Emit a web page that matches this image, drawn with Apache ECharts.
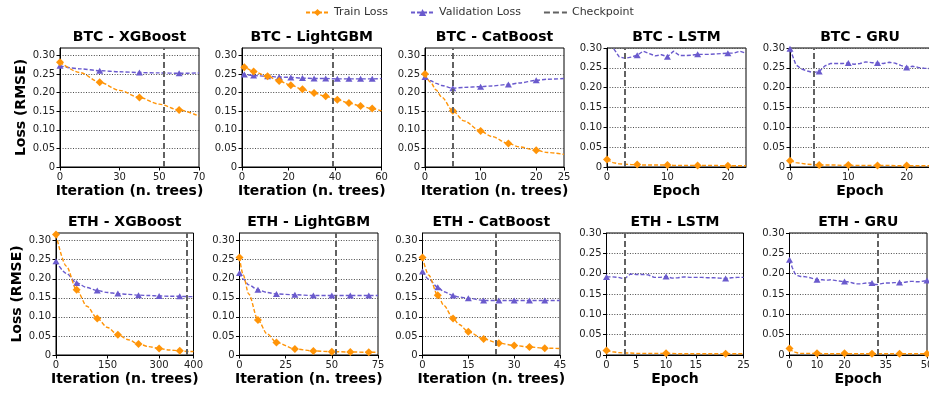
<!DOCTYPE html>
<html><head><meta charset="utf-8">
<script src="https://cdn.jsdelivr.net/npm/echarts@6/dist/echarts.min.js"></script>
<style>html,body{margin:0;padding:0;background:#fff}#c{width:929px;height:393px}</style>
</head><body><div id="c"></div>
<script>
// ---------------- DATA ----------------
const yTicks = [0, 0.05, 0.10, 0.15, 0.20, 0.25, 0.30];

// BTC - XGBoost
const btcXgbX     = [0, 10, 20, 30, 40, 50, 60, 70];
const btcXgbTrain = [0.282, 0.254, 0.228, 0.206, 0.187, 0.169, 0.153, 0.137];
const btcXgbVal   = [0.272, 0.264, 0.259, 0.256, 0.254, 0.253, 0.252, 0.253];
const btcXgbMarks = [0, 2, 4, 6];
const btcXgbCkpt  = 52;
const btcXgbTicks = [0, 30, 50, 70];

// BTC - LightGBM
const btcLgbX     = [0, 1, 5, 11, 16, 21, 26, 31, 36, 41, 46, 51, 56, 60];
const btcLgbTrain = [0.272, 0.268, 0.257, 0.244, 0.231, 0.220, 0.209, 0.199, 0.190, 0.181, 0.172, 0.164, 0.157, 0.151];
const btcLgbVal   = [0.250, 0.249, 0.246, 0.244, 0.242, 0.241, 0.239, 0.238, 0.238, 0.237, 0.237, 0.237, 0.237, 0.238];
const btcLgbMarks = [1, 2, 3, 4, 5, 6, 7, 8, 9, 10, 11, 12];
const btcLgbCkpt  = 39;
const btcLgbTicks = [0, 20, 40, 60];

// BTC - CatBoost
const btcCatX     = [0, 1, 2, 3, 5, 7, 10, 12, 15, 17, 20, 22, 25];
const btcCatTrain = [0.250, 0.228, 0.207, 0.188, 0.151, 0.124, 0.0965, 0.082, 0.063, 0.054, 0.045, 0.039, 0.034];
const btcCatVal   = [0.242, 0.232, 0.225, 0.219, 0.212, 0.214, 0.216, 0.218, 0.222, 0.226, 0.233, 0.236, 0.238];
const btcCatMarks = [0, 4, 6, 8, 10];
const btcCatCkpt  = 5;
const btcCatTicks = [0, 10, 20, 25];

// BTC - LSTM (epochs 0..23)
const btcLstmTrain = [0.019, 0.011, 0.008, 0.007, 0.006, 0.006, 0.005, 0.005, 0.005, 0.005, 0.005, 0.004, 0.004, 0.004, 0.004, 0.004, 0.004, 0.004, 0.004, 0.003, 0.003, 0.003, 0.003, 0.003];
const btcLstmVal   = [0.340, 0.301, 0.278, 0.274, 0.277, 0.282, 0.292, 0.286, 0.280, 0.283, 0.278, 0.292, 0.281, 0.281, 0.282, 0.284, 0.284, 0.284, 0.285, 0.286, 0.287, 0.287, 0.292, 0.287];
const btcLstmMarks = [0, 5, 10, 15, 20];
const btcLstmCkpt  = 3;
const btcLstmTicks = [0, 10, 20];

// BTC - GRU (epochs 0..24)
const btcGruTrain = [0.016, 0.011, 0.009, 0.007, 0.006, 0.005, 0.005, 0.005, 0.005, 0.004, 0.005, 0.004, 0.004, 0.004, 0.004, 0.004, 0.004, 0.004, 0.003, 0.003, 0.004, 0.003, 0.003, 0.003, 0.003];
const btcGruVal   = [0.298, 0.258, 0.247, 0.242, 0.238, 0.241, 0.255, 0.261, 0.261, 0.261, 0.262, 0.259, 0.261, 0.265, 0.263, 0.262, 0.261, 0.264, 0.262, 0.256, 0.251, 0.254, 0.251, 0.249, 0.248];
const btcGruMarks = [0, 5, 10, 15, 20];
const btcGruCkpt  = 4;
const btcGruTicks = [0, 10, 20];

// ETH - XGBoost
const ethXgbX     = [0, 30, 60, 90, 120, 150, 180, 210, 240, 270, 300, 330, 360, 390, 400];
const ethXgbTrain = [0.316, 0.233, 0.171, 0.128, 0.096, 0.072, 0.053, 0.040, 0.029, 0.022, 0.017, 0.013, 0.011, 0.009, 0.009];
const ethXgbVal   = [0.246, 0.214, 0.189, 0.177, 0.169, 0.164, 0.161, 0.159, 0.157, 0.156, 0.155, 0.154, 0.154, 0.153, 0.153];
const ethXgbMarks = [0, 2, 4, 6, 8, 10, 12];
const ethXgbCkpt  = 380;
const ethXgbTicks = [0, 150, 300, 400];

// ETH - LightGBM
const ethLgbX     = [0, 2, 5, 10, 15, 20, 30, 40, 50, 60, 70, 75];
const ethLgbTrain = [0.256, 0.210, 0.160, 0.092, 0.055, 0.033, 0.016, 0.0105, 0.0088, 0.0079, 0.0072, 0.0070];
const ethLgbVal   = [0.215, 0.199, 0.184, 0.171, 0.164, 0.160, 0.158, 0.156, 0.156, 0.156, 0.156, 0.156];
const ethLgbMarks = [0, 3, 5, 6, 7, 8, 9, 10];
const ethLgbCkpt  = 52;
const ethLgbTicks = [0, 25, 50, 75];

// ETH - CatBoost
const ethCatX     = [0, 2, 5, 7, 10, 12, 15, 20, 25, 30, 35, 40, 45];
const ethCatTrain = [0.256, 0.210, 0.157, 0.130, 0.096, 0.080, 0.061, 0.042, 0.031, 0.025, 0.021, 0.018, 0.017];
const ethCatVal   = [0.219, 0.199, 0.178, 0.166, 0.156, 0.152, 0.149, 0.143, 0.143, 0.143, 0.143, 0.143, 0.143];
const ethCatMarks = [0, 2, 4, 6, 7, 8, 9, 10, 11];
const ethCatCkpt  = 24;
const ethCatTicks = [0, 15, 30, 45];

// ETH - LSTM (epochs 0..23)
const ethLstmTrain = [0.011, 0.008, 0.006, 0.005, 0.005, 0.004, 0.004, 0.004, 0.004, 0.004, 0.004, 0.004, 0.003, 0.003, 0.003, 0.003, 0.003, 0.003, 0.003, 0.003, 0.003, 0.003, 0.003, 0.003];
const ethLstmVal   = [0.192, 0.192, 0.191, 0.187, 0.199, 0.198, 0.198, 0.197, 0.191, 0.191, 0.193, 0.189, 0.190, 0.192, 0.191, 0.191, 0.191, 0.190, 0.190, 0.189, 0.188, 0.190, 0.191, 0.191];
const ethLstmMarks = [0, 10, 20];
const ethLstmCkpt  = 3;
const ethLstmTicks = [0, 5, 10, 15, 23];
const ethLstmTickLabels = ['0', '5', '10', '15', '25'];

// ETH - GRU (epochs 0..50)
const ethGruTrain = [0.016,0.010,0.007,0.005,0.004,0.004,0.004,0.004,0.004,0.004,
                     0.004,0.004,0.003,0.003,0.003,0.003,0.003,0.003,0.003,0.003,
                     0.004,0.003,0.003,0.003,0.003,0.003,0.003,0.003,0.003,0.003,
                     0.003,0.003,0.003,0.003,0.003,0.003,0.003,0.003,0.003,0.003,
                     0.003,0.003,0.003,0.003,0.003,0.003,0.003,0.003,0.003,0.003,
                     0.003];
const ethGruVal   = [0.234,0.215,0.200,0.195,0.193,0.193,0.192,0.191,0.189,0.187,
                     0.185,0.185,0.185,0.184,0.184,0.185,0.184,0.183,0.182,0.181,
                     0.181,0.180,0.179,0.177,0.175,0.175,0.175,0.176,0.177,0.177,
                     0.177,0.174,0.173,0.175,0.176,0.177,0.177,0.177,0.178,0.178,
                     0.178,0.178,0.179,0.180,0.181,0.181,0.180,0.180,0.181,0.182,
                     0.183];
const ethGruMarks = [0, 10, 20, 30, 40, 50];
const ethGruCkpt  = 32;
const ethGruTicks = [0, 10, 20, 35, 50];

// ---------------- LAYOUT / STYLE ----------------
const FONT = 'DejaVu Sans';
const ORANGE = '#ff9408', PURPLE = '#6a5acd', GRAY = '#626262';
const epochs = arr => arr.map((_, i) => i);
const IT = 'Iteration (n. trees)', EP = 'Epoch';

const panels = [
  {title:'BTC - XGBoost',  x:btcXgbX, tr:btcXgbTrain, va:btcXgbVal, mk:btcXgbMarks, ck:btcXgbCkpt, xt:btcXgbTicks, xMax:70, yMax:0.32, xn:IT, sm:true,  box:[60,48,139,119]},
  {title:'BTC - LightGBM', x:btcLgbX, tr:btcLgbTrain, va:btcLgbVal, mk:btcLgbMarks, ck:btcLgbCkpt, xt:btcLgbTicks, xMax:60, yMax:0.32, xn:IT, sm:true,  box:[242,48,139.5,119]},
  {title:'BTC - CatBoost', x:btcCatX, tr:btcCatTrain, va:btcCatVal, mk:btcCatMarks, ck:btcCatCkpt, xt:btcCatTicks, xMax:25, yMax:0.32, xn:IT, sm:true,  box:[425,48,139,119]},
  {title:'BTC - LSTM', x:epochs(btcLstmVal), tr:btcLstmTrain, va:btcLstmVal, mk:btcLstmMarks, ck:btcLstmCkpt, xt:btcLstmTicks, xMax:23, yMax:0.30, xn:EP, sm:false, box:[607,48,139,119]},
  {title:'BTC - GRU',  x:epochs(btcGruVal),  tr:btcGruTrain,  va:btcGruVal,  mk:btcGruMarks,  ck:btcGruCkpt,  xt:btcGruTicks,  xMax:24, yMax:0.30, xn:EP, sm:false, box:[790,48,140,119]},
  {title:'ETH - XGBoost',  x:ethXgbX, tr:ethXgbTrain, va:ethXgbVal, mk:ethXgbMarks, ck:ethXgbCkpt, xt:ethXgbTicks, xMax:400, yMax:0.32, xn:IT, sm:true, box:[56,233,137.5,122]},
  {title:'ETH - LightGBM', x:ethLgbX, tr:ethLgbTrain, va:ethLgbVal, mk:ethLgbMarks, ck:ethLgbCkpt, xt:ethLgbTicks, xMax:75, yMax:0.32, xn:IT, sm:true, box:[239.5,233,138.5,122]},
  {title:'ETH - CatBoost', x:ethCatX, tr:ethCatTrain, va:ethCatVal, mk:ethCatMarks, ck:ethCatCkpt, xt:ethCatTicks, xMax:45, yMax:0.32, xn:IT, sm:true, box:[422.5,233,137.5,122]},
  {title:'ETH - LSTM', x:epochs(ethLstmVal), tr:ethLstmTrain, va:ethLstmVal, mk:ethLstmMarks, ck:ethLstmCkpt, xt:ethLstmTicks, xl:ethLstmTickLabels, xMax:23, yMax:0.30, xn:EP, sm:false, box:[606.5,233,137,122]},
  {title:'ETH - GRU',  x:epochs(ethGruVal),  tr:ethGruTrain,  va:ethGruVal,  mk:ethGruMarks,  ck:ethGruCkpt,  xt:ethGruTicks,  xMax:50, yMax:0.30, xn:EP, sm:false, box:[789.5,233,137.5,122]}
];

function pts(xs, ys, marks, sym) {
  return ys.map((y, j) => ({ value: [xs[j], y], symbol: marks.includes(j) ? sym : 'none' }));
}
const fmtY = v => (v === 0 ? '0' : v.toFixed(2));

const grids = [], xAxes = [], yAxes = [], series = [], titles = [];
panels.forEach((p, i) => {
  const [l, t, w, h] = p.box;
  grids.push({ left: l, top: t, width: w, height: h, show: true, borderColor: '#000', borderWidth: 1,
               backgroundColor: 'transparent', containLabel: false, outerBoundsMode: 'none' });
  titles.push({ text: p.title, left: l + w / 2, top: t - 18, textAlign: 'center', padding: 0,
                textStyle: { fontFamily: FONT, fontSize: 14, fontWeight: 'bold', color: '#000' } });
  xAxes.push({
    gridIndex: i, type: 'value', min: 0, max: p.xMax,
    axisLine: { show: true, onZero: false, lineStyle: { color: '#000', width: 1 } },
    axisTick: { show: true, customValues: p.xt, length: 3.5, lineStyle: { color: '#000', width: 1 } },
    axisLabel: { customValues: p.xt, fontFamily: FONT, fontSize: 10, color: '#222', margin: 5,
                 formatter: v => (p.xl ? p.xl[p.xt.indexOf(v)] : String(v)) },
    splitLine: { show: false },
    name: p.xn, nameLocation: 'middle', nameGap: 17,
    nameTextStyle: { fontFamily: FONT, fontSize: 14, fontWeight: 'bold', color: '#000' }
  });
  yAxes.push({
    gridIndex: i, type: 'value', min: 0, max: p.yMax,
    axisLine: { show: true, lineStyle: { color: '#000', width: 1 } },
    axisTick: { show: true, customValues: yTicks, length: 3.5, lineStyle: { color: '#000', width: 1 } },
    axisLabel: { customValues: yTicks, fontFamily: FONT, fontSize: 10, color: '#222', margin: 5, formatter: fmtY },
    splitLine: { show: true, lineStyle: { color: '#4a4a4a', type: [1, 1.6], width: 1 } },
    name: (i % 5 === 0) ? 'Loss (RMSE)' : '', nameLocation: 'middle', nameRotate: 90,
    nameGap: l - 29,
    nameTextStyle: { fontFamily: FONT, fontSize: 14, fontWeight: 'bold', color: '#000' }
  });
  series.push({
    type: 'line', name: 'Validation Loss', xAxisIndex: i, yAxisIndex: i,
    data: pts(p.x, p.va, p.mk, 'triangle'), symbol: 'triangle', symbolSize: [7, 6],
    smooth: p.sm ? 0.3 : false, smoothMonotone: 'x',
    lineStyle: { color: PURPLE, width: 1.4, type: [4, 2] }, itemStyle: { color: PURPLE },
    z: 3
  });
  series.push({
    type: 'line', name: 'Train Loss', xAxisIndex: i, yAxisIndex: i,
    data: pts(p.x, p.tr, p.mk, 'diamond'), symbol: 'diamond', symbolSize: [8, 8],
    smooth: p.sm ? 0.3 : false, smoothMonotone: 'x',
    lineStyle: { color: ORANGE, width: 1.4, type: [4, 2] }, itemStyle: { color: ORANGE },
    z: 4,
    markLine: { silent: true, symbol: ['none', 'none'], label: { show: false }, animation: false,
                lineStyle: { color: GRAY, type: [6, 3], width: 2 }, data: [{ xAxis: p.ck }] }
  });
});
series.push({ type: 'line', name: 'Checkpoint', xAxisIndex: 0, yAxisIndex: 0, data: [], symbol: 'circle',
              lineStyle: { color: GRAY, type: [6, 3], width: 2 },
              itemStyle: { color: 'rgba(0,0,0,0)', borderWidth: 0, opacity: 0 } });

const chart = echarts.init(document.getElementById('c'), null, { renderer: 'canvas' });
chart.setOption({
  animation: false,
  backgroundColor: '#fff',
  textStyle: { fontFamily: FONT },
  title: titles,
  legend: {
    left: 300, top: 2, itemWidth: 23, itemHeight: 9, itemGap: 22,
    data: ['Train Loss', 'Validation Loss',
           { name: 'Checkpoint', itemStyle: { color: 'rgba(0,0,0,0)', opacity: 0, borderWidth: 0 } }],
    textStyle: { fontFamily: FONT, fontSize: 11, color: '#333' }
  },
  grid: grids, xAxis: xAxes, yAxis: yAxes, series: series
});
</script></body></html>
